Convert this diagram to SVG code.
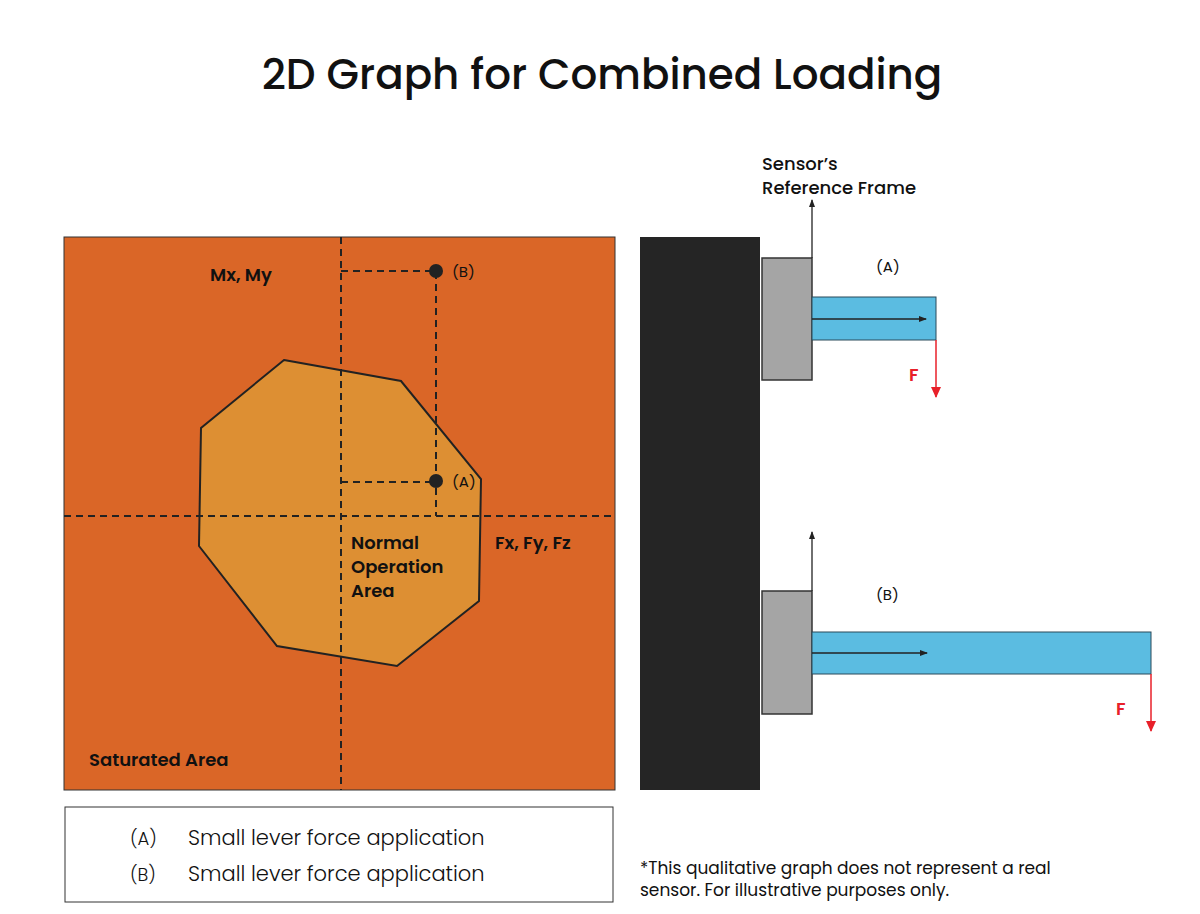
<svg xmlns="http://www.w3.org/2000/svg" width="1200" height="914" viewBox="0 0 1200 914">
<style>
text{font-family:Poppins,"Noto Sans","Liberation Sans",sans-serif;fill:#111}
.b{font-weight:600}
.d{stroke:#222;stroke-width:2;stroke-dasharray:7 5;fill:none}
.ax{stroke:#222;stroke-width:1.3;fill:none}
.red{stroke:#e8202a;stroke-width:1.5;fill:none}
</style>
<defs>
<marker id="ar" markerWidth="8" markerHeight="8" refX="7" refY="4" orient="auto" markerUnits="userSpaceOnUse"><path d="M0,1 L8,4 L0,7Z" fill="#222"/></marker>
<marker id="rr" markerWidth="12" markerHeight="10" refX="10" refY="5" orient="auto" markerUnits="userSpaceOnUse"><path d="M0,0 L11,5 L0,10Z" fill="#e8202a"/></marker>
</defs>
<rect width="1200" height="914" fill="#fff"/>
<text x="602" y="89" text-anchor="middle" font-size="42" class="b" style="font-weight:500">2D Graph for Combined Loading</text>
<g id="graph">
<rect x="64" y="237" width="551" height="553" fill="#DA6627" stroke="#333" stroke-width="1"/>
<polygon id="normal-area" points="284,360 401,381 481,479 479,601 397,666 277,646 199,546 201,428" fill="#DD8F33" stroke="#222" stroke-width="2"/>
<line class="d" x1="341" y1="237" x2="341" y2="790"/>
<line class="d" x1="64" y1="516" x2="615" y2="516"/>
<polyline class="d" points="341,271 436,271 436,516"/>
<line class="d" x1="341" y1="482" x2="436" y2="482"/>
<circle cx="436" cy="271" r="7" fill="#222"/>
<circle cx="436" cy="481" r="7" fill="#222"/>
<text x="452" y="277" font-size="15">(B)</text>
<text x="452" y="487" font-size="15">(A)</text>
<text x="210" y="281" font-size="18" class="b">Mx, My</text>
<text x="495" y="549" font-size="18" class="b">Fx, Fy, Fz</text>
<text x="351" y="549" font-size="18" class="b">Normal</text>
<text x="351" y="573" font-size="18" class="b">Operation</text>
<text x="351" y="597" font-size="18" class="b">Area</text>
<text x="89" y="766" font-size="18" class="b">Saturated Area</text>
</g>
<g id="wall"><rect x="640" y="237" width="120" height="553" fill="#252525"/></g>
<g id="sensorA">
<rect x="762" y="258" width="50" height="122" fill="#a5a5a5" stroke="#333" stroke-width="1.5"/>
<rect x="812" y="297" width="124" height="43" fill="#5bbce1" stroke="#2a4a5a" stroke-width="1"/>
<text x="762" y="170" font-size="18" class="b" style="font-weight:500">Sensor’s</text>
<text x="762" y="194" font-size="18" class="b" style="font-weight:500">Reference Frame</text>
<text x="876" y="272" font-size="15">(A)</text>
<text x="909" y="381" font-size="18" class="b" style="fill:#e8202a">F</text>
</g>
<g id="sensorB">
<rect x="762" y="591" width="50" height="123" fill="#a5a5a5" stroke="#333" stroke-width="1.5"/>
<rect x="812" y="632" width="339" height="42" fill="#5bbce1" stroke="#2a4a5a" stroke-width="1"/>
<text x="876" y="600" font-size="15">(B)</text>
<text x="1116" y="715" font-size="18" class="b" style="fill:#e8202a">F</text>
</g>
<g id="connectors">
<line class="ax" x1="812" y1="258" x2="812" y2="200" marker-end="url(#ar)"/>
<line class="ax" x1="812" y1="319" x2="926" y2="319" marker-end="url(#ar)"/>
<line class="red" x1="936" y1="340" x2="936" y2="397" marker-end="url(#rr)"/>
<line class="ax" x1="812" y1="591" x2="812" y2="532" marker-end="url(#ar)"/>
<line class="ax" x1="812" y1="653" x2="927" y2="653" marker-end="url(#ar)"/>
<line class="red" x1="1151" y1="674" x2="1151" y2="731" marker-end="url(#rr)"/>
</g>
<g id="legend">
<rect x="65" y="807" width="548" height="95" fill="#fff" stroke="#333" stroke-width="1"/>
<text x="130" y="845" font-size="18" style="font-weight:300">(A)</text>
<text x="188" y="845" font-size="21" style="font-weight:300">Small lever force application</text>
<text x="130" y="881" font-size="18" style="font-weight:300">(B)</text>
<text x="188" y="881" font-size="21" style="font-weight:300">Small lever force application</text>
</g>
<text x="640" y="874" font-size="17">*This qualitative graph does not represent a real</text>
<text x="640" y="896" font-size="17">sensor. For illustrative purposes only.</text>
</svg>
